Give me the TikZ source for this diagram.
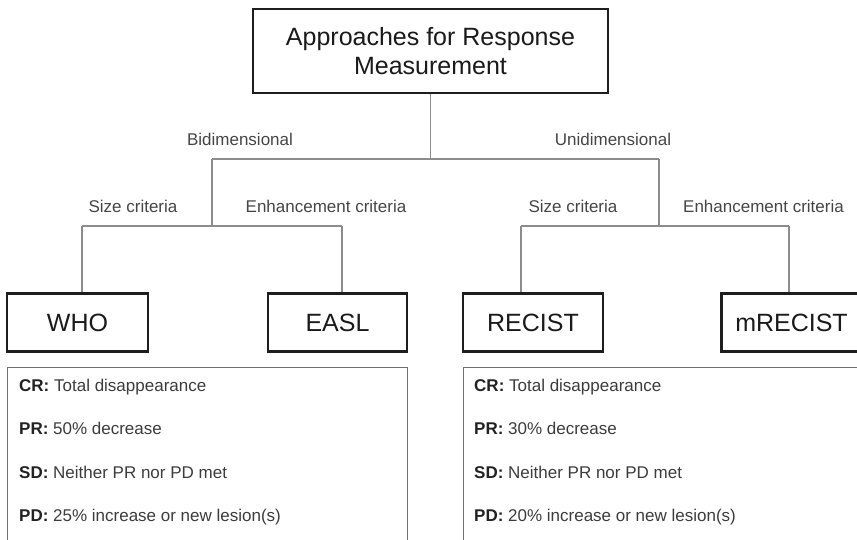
\documentclass[tikz,border=0pt]{standalone}
\usepackage{fontspec}
\setmainfont{Liberation Sans}
\definecolor{linegray}{HTML}{8C8C8C}
\definecolor{boxdark}{HTML}{1E1E1E}
\definecolor{panelgray}{HTML}{707070}
\definecolor{titletext}{HTML}{1A1A1A}
\definecolor{labeltext}{HTML}{454545}
\definecolor{itemtext}{HTML}{3C3C3C}
\definecolor{itembold}{HTML}{222222}
\newcommand{\critkey}[1]{\textcolor{itembold}{\bfseries #1}}
\begin{document}
\begin{tikzpicture}[x=1pt,y=-1pt,
  conn/.style={draw=linegray,line width=1.4pt},
  head/.style={draw=boxdark,line width=2.2pt,fill=white,inner sep=0pt,
    font=\fontsize{25}{29}\selectfont,text=titletext},
  crit/.style={draw=boxdark,line width=2.2pt,minimum width=140pt,minimum height=58pt,
    inner sep=0pt,font=\fontsize{25}{29}\selectfont,text=titletext},
  lbl/.style={font=\fontsize{17}{20}\selectfont,text=labeltext,inner sep=0pt,
    text height=12.2pt,text depth=0pt},
  panel/.style={draw=panelgray,line width=1.4pt,anchor=north west,inner sep=0pt,
    minimum height=200pt},
  item/.style={font=\fontsize{17}{20}\selectfont,text=itemtext,anchor=west,
    inner sep=0pt,text height=12.2pt,text depth=0pt}]

\useasboundingbox (0,0) rectangle (857,539);
\clip (0,0) rectangle (857,539);

% root of the tree
\node[head,minimum width=355pt,minimum height=84pt,align=center] (top) at (430.5,51)
  {Approaches for Response\\Measurement};

% branching points
\coordinate (bj) at (212,159);
\coordinate (uj) at (659,159);
\coordinate (bl) at (82,226);
\coordinate (br) at (342,226);
\coordinate (ul) at (521,226);
\coordinate (ur) at (789,226);

% criteria boxes
\node[crit,minimum width=141pt] (who) at (77.5,322.5) {WHO};
\node[crit,minimum width=139pt] (easl) at (337.5,322.5) {EASL};
\node[crit,minimum width=140pt] (recist) at (533,322.5) {RECIST};
\node[crit,minimum width=140pt] (mrecist) at (791.5,322.5) {mRECIST};

% connectors
\draw[conn] (top.south) -- (top.south |- bj);
\draw[conn] (bj) -- (uj);
\draw[conn] (bj) -- (bj |- bl);
\draw[conn] (uj) -- (uj |- ul);
\draw[conn] (bl) -- (br);
\draw[conn] (ul) -- (ur);
\draw[conn] (bl) -- (bl |- who.north);
\draw[conn] (br) -- (br |- easl.north);
\draw[conn] (ul) -- (ul |- recist.north);
\draw[conn] (ur) -- (ur |- mrecist.north);

% branch labels
\node[lbl] (bidim) at (240,139) {Bidimensional};
\node[lbl] (unidim) at (613,139) {Unidimensional};
\node[lbl] (bsize) at (133,206) {Size criteria};
\node[lbl] (benh) at (326,206) {Enhancement criteria};
\node[lbl] (usize) at (573,206) {Size criteria};
\node[lbl] (uenh) at (763.5,206) {Enhancement criteria};

% response criteria panels
\node[panel,minimum width=400pt] (whopanel) at (7,367) {};
\node[panel,minimum width=420pt] (recpanel) at (463,367) {};

\node[item] (wcr) at (19,385) {\critkey{CR:} Total disappearance};
\node[item] (wpr) at (19,428) {\critkey{PR:} 50\% decrease};
\node[item] (wsd) at (19,472) {\critkey{SD:} Neither PR nor PD met};
\node[item] (wpd) at (19,515) {\critkey{PD:} 25\% increase or new lesion(s)};

\node[item] (rcr) at (474,385) {\critkey{CR:} Total disappearance};
\node[item] (rpr) at (474,428) {\critkey{PR:} 30\% decrease};
\node[item] (rsd) at (474,472) {\critkey{SD:} Neither PR nor PD met};
\node[item] (rpd) at (474,515) {\critkey{PD:} 20\% increase or new lesion(s)};
\end{tikzpicture}
\end{document}
